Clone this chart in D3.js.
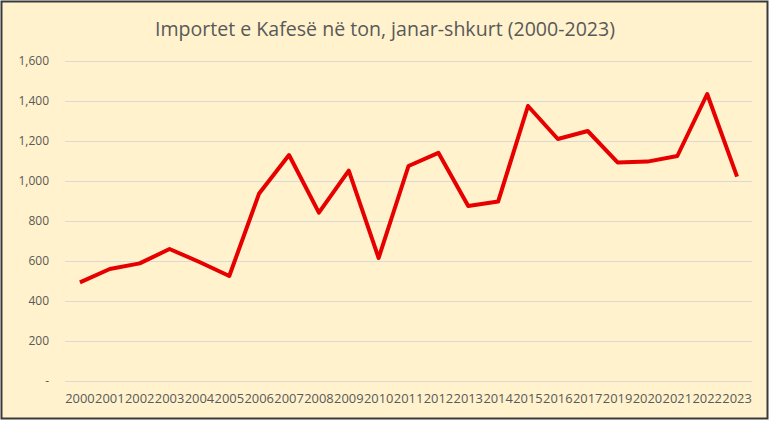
<!DOCTYPE html>
<html><head><meta charset="utf-8">
<script src="https://cdn.jsdelivr.net/npm/d3@7"></script>
<style>body{margin:0;background:#fff}svg{display:block}</style>
</head><body>
<svg id="c" width="772" height="421"></svg>
<script>
const title = "Importet e Kafesë në ton, janar-shkurt (2000-2023)";
const years = ["2000","2001","2002","2003","2004","2005","2006","2007","2008","2009","2010","2011","2012","2013","2014","2015","2016","2017","2019","2020","2021","2022","2023"];
const values = [493,560,588,660,595,525,938,1130,842,1052,615,1075,1141,875,897,1375,1210,1250,1093,1097,1125,1435,1022];
const yTicks = [0,200,400,600,800,1000,1200,1400,1600];

const svg = d3.select("#c");
svg.append("rect").attr("x",1.5).attr("y",1.5).attr("width",766).attr("height",417)
  .attr("fill","#FFF2CC").attr("stroke","#3a3a3a").attr("stroke-width",2);

const x = d3.scaleBand().domain(years).range([65,752]);
const y = d3.scaleLinear().domain([0,1600]).range([381,61]);

svg.append("text").attr("x",385).attr("y",36).attr("text-anchor","middle")
  .attr("font-family","Open Sans, sans-serif").attr("font-size",20).attr("fill","#595959")
  .attr("textLength",460).attr("lengthAdjust","spacingAndGlyphs").text(title);

const fmt = v => v === 0 ? "-" : d3.format(",")(v);
const yAxis = svg.append("g").attr("transform","translate(65,0)")
  .call(d3.axisLeft(y).tickValues(yTicks).tickSize(-687).tickPadding(16).tickFormat(fmt));
yAxis.select(".domain").remove();
yAxis.selectAll(".tick line").attr("stroke","#d9d9d9").attr("stroke-width",1);
yAxis.selectAll(".tick text").attr("font-family","Open Sans, sans-serif").attr("font-size",12).attr("fill","#595959");

const xAxis = svg.append("g").attr("transform","translate(0,381)")
  .call(d3.axisBottom(x).tickSize(0).tickPadding(13));
xAxis.select(".domain").remove();
xAxis.selectAll(".tick text").attr("font-family","Open Sans, sans-serif").attr("font-size",12).attr("fill","#595959")
  .attr("textLength",29.5).attr("lengthAdjust","spacingAndGlyphs");

const line = d3.line().x((d,i)=>x(years[i])+x.bandwidth()/2).y(d=>y(d));
svg.append("path").datum(values).attr("d",line).attr("fill","none")
  .attr("stroke","#E60000").attr("stroke-width",4).attr("stroke-linejoin","round");
</script>
</body></html>
